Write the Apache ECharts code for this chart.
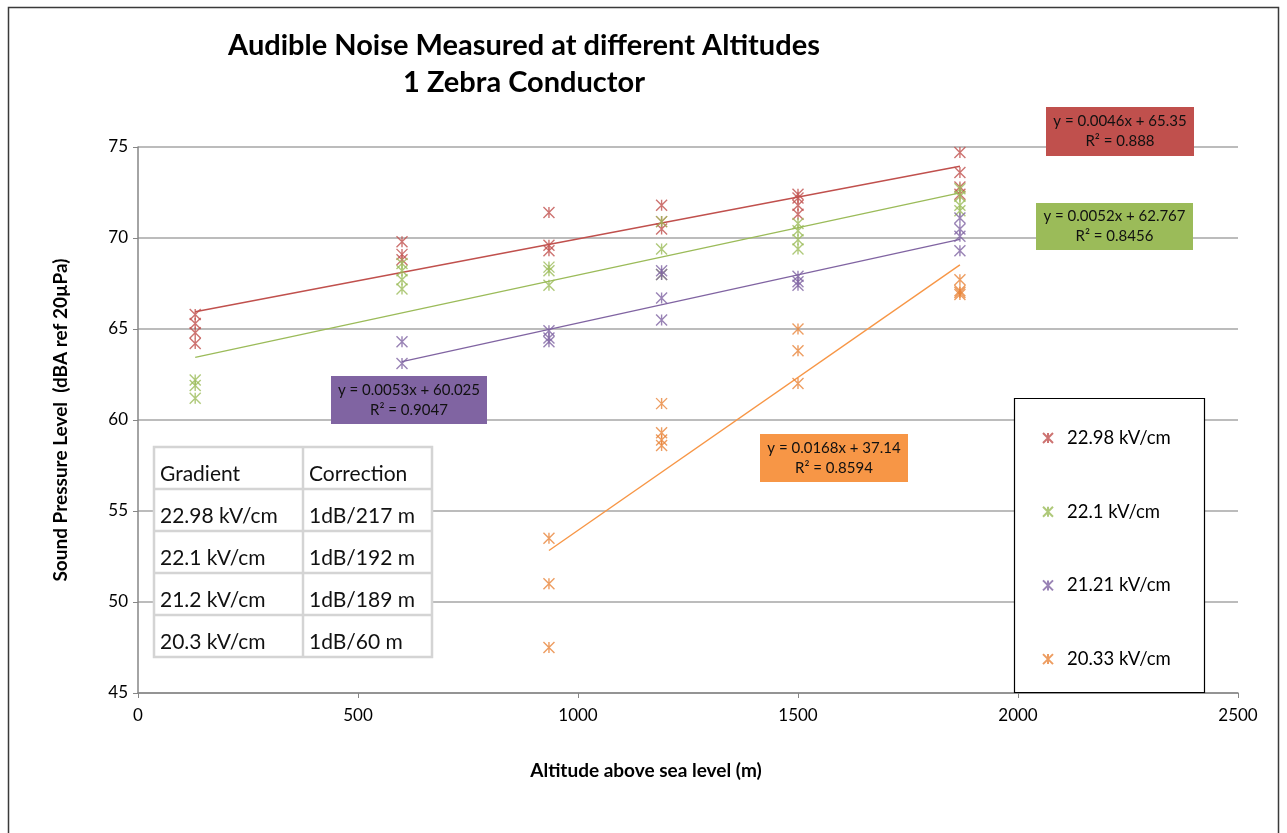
<!DOCTYPE html>
<html>
<head>
<meta charset="utf-8">
<title>Audible Noise Measured at different Altitudes</title>
<script src="https://cdn.jsdelivr.net/npm/echarts@6/dist/echarts.min.js"></script>
<style>
  html, body { margin: 0; padding: 0; background: #ffffff; }
  #chart { width: 1287px; height: 833px; }
</style>
</head>
<body>
<div id="chart"></div>
<script>
// Measured sound pressure level (dBA) per altitude (m), one array per conductor gradient
const seriesNames = ['22.98 kV/cm', '22.1 kV/cm', '21.21 kV/cm', '20.33 kV/cm'];
const seriesColors = ['#C0504D', '#9BBB59', '#8064A2', '#F79646'];
const markerColors = ['#C0504D', '#9BBB59', '#8064A2', '#E8853A'];

const grad2298 = [
  [130, 65.8], [130, 65.3], [130, 64.8], [130, 64.2],
  [600, 69.8], [600, 69.1], [600, 68.8],
  [934, 71.4], [934, 69.6], [934, 69.3],
  [1190, 71.8], [1190, 70.9], [1190, 70.5],
  [1500, 72.4], [1500, 72.2], [1500, 71.8], [1500, 71.3],
  [1868, 74.7], [1868, 73.6], [1868, 72.8], [1868, 72.4]
];
const grad221 = [
  [130, 62.2], [130, 61.9], [130, 61.2],
  [600, 68.6], [600, 68.2], [600, 67.7], [600, 67.2],
  [934, 68.4], [934, 68.2], [934, 67.4],
  [1190, 70.9], [1190, 69.4], [1190, 68.0],
  [1500, 70.8], [1500, 70.4], [1500, 69.9], [1500, 69.4],
  [1868, 72.7], [1868, 72.3], [1868, 71.8], [1868, 71.5]
];
const grad2121 = [
  [600, 64.3], [600, 63.1],
  [934, 64.9], [934, 64.5], [934, 64.3],
  [1190, 68.2], [1190, 68.0], [1190, 66.7], [1190, 65.5],
  [1500, 67.9], [1500, 67.6], [1500, 67.4],
  [1868, 71.1], [1868, 70.5], [1868, 70.1], [1868, 69.3]
];
const grad2033 = [
  [934, 53.5], [934, 51.0], [934, 47.5],
  [1190, 60.9], [1190, 59.3], [1190, 58.9], [1190, 58.6],
  [1500, 65.0], [1500, 63.8], [1500, 62.0],
  [1868, 67.7], [1868, 67.1], [1868, 67.0], [1868, 66.9]
];
const measurements = [grad2298, grad221, grad2121, grad2033];

// Linear trend fits (y = slope * x + intercept)
const slopes = [0.0046, 0.0052, 0.0053, 0.0168];
const intercepts = [65.35, 62.767, 60.025, 37.14];
const rSquared = ['0.888', '0.8456', '0.9047', '0.8594'];

// Altitude-correction table
const tableHeader = ['Gradient', 'Correction'];
const tableGradients = ['22.98 kV/cm', '22.1 kV/cm', '21.2 kV/cm', '20.3 kV/cm'];
const tableCorrections = ['1dB/217 m', '1dB/192 m', '1dB/189 m', '1dB/60 m'];

// Axis ranges
const xMin = 0, xMax = 2500, xStep = 500;
const yMin = 45, yMax = 75, yStep = 5;

const FONT = 'Lato, "Open Sans", sans-serif';
const STAR = 'path://M0,0L12,12M12,0L0,12M6,0L6,12';
const OVER = 1; // layer for boxes drawn above the plot

const chart = echarts.init(document.getElementById('chart'), null, { renderer: 'canvas' });

const series = [];
measurements.forEach((pts, i) => {
  series.push({
    name: seriesNames[i],
    type: 'scatter',
    data: pts,
    symbol: STAR,
    symbolSize: 11,
    itemStyle: { color: 'rgba(0,0,0,0)', borderColor: markerColors[i], borderWidth: 1.4 },
    z: 3
  });
});
measurements.forEach((pts, i) => {
  const xs = pts.map(p => p[0]);
  const lo = Math.min(...xs), hi = Math.max(...xs);
  series.push({
    name: seriesNames[i] + ' fit',
    type: 'line',
    data: [[lo, slopes[i] * lo + intercepts[i]], [hi, slopes[i] * hi + intercepts[i]]],
    symbol: 'none',
    lineStyle: { color: seriesColors[i], width: 1.4 },
    silent: true,
    z: 2
  });
});

const graphics = [];
// outer frame
graphics.push({
  type: 'rect', shape: { x: 8.5, y: 7.5, width: 1270, height: 840 },
  style: { fill: 'none', stroke: '#3a3a3a', lineWidth: 1.5 }, silent: true
});

// Equation boxes
const eqBoxes = [
  { x: 1046, y: 107, w: 148, h: 49 },
  { x: 1036, y: 203, w: 157, h: 47 },
  { x: 331, y: 376, w: 156, h: 48 },
  { x: 760, y: 434, w: 148, h: 48 }
];
eqBoxes.forEach((b, i) => {
  graphics.push({ type: 'rect', zlevel: OVER, z: 10, shape: { x: b.x, y: b.y, width: b.w, height: b.h }, style: { fill: seriesColors[i] } });
  graphics.push({ type: 'text', zlevel: OVER, z: 11, x: b.x + b.w / 2, y: b.y + b.h / 2 - 10,
    style: { text: 'y = ' + slopes[i] + 'x + ' + intercepts[i], fill: '#111', font: '15px ' + FONT, align: 'center', verticalAlign: 'middle' } });
  graphics.push({ type: 'text', zlevel: OVER, z: 11, x: b.x + b.w / 2, y: b.y + b.h / 2 + 10,
    style: { text: 'R² = ' + rSquared[i], fill: '#111', font: '15px ' + FONT, align: 'center', verticalAlign: 'middle' } });
});

// Correction table
const tX = 154, tY = 447, colW = [149, 129], rowH = 42;
const tW = colW[0] + colW[1];
const tableRows = [tableHeader].concat(tableGradients.map((g, k) => [g, tableCorrections[k]]));
graphics.push({ type: 'rect', zlevel: OVER, z: 10, shape: { x: tX, y: tY, width: tW, height: rowH * tableRows.length }, style: { fill: '#fff', stroke: '#d4d4d4', lineWidth: 2.5 } });
tableRows.forEach((row, r) => {
  if (r > 0) {
    graphics.push({ type: 'line', zlevel: OVER, z: 11, shape: { x1: tX, y1: tY + r * rowH, x2: tX + tW, y2: tY + r * rowH }, style: { stroke: '#d4d4d4', lineWidth: 2.5 } });
  }
  row.forEach((cell, c) => {
    graphics.push({
      type: 'text', zlevel: OVER, z: 12, x: tX + (c === 0 ? 6 : colW[0] + 6), y: tY + r * rowH + rowH / 2 + 6,
      style: { text: cell, fill: '#111', font: '21px ' + FONT, verticalAlign: 'middle' }
    });
  });
});
graphics.push({ type: 'line', zlevel: OVER, z: 11, shape: { x1: tX + colW[0], y1: tY, x2: tX + colW[0], y2: tY + rowH * tableRows.length }, style: { stroke: '#d4d4d4', lineWidth: 2.5 } });

// Legend frame
graphics.push({
  type: 'rect', zlevel: OVER, z: 10, shape: { x: 1014.5, y: 398.5, width: 190, height: 294 },
  style: { fill: '#fff', stroke: '#000', lineWidth: 1.2 }, silent: true
});

// X axis title, centred under the text block
graphics.push({
  type: 'text', x: 646, y: 771,
  style: { text: 'Altitude above sea level (m)', fill: '#000', font: 'bold 19px ' + FONT, align: 'center', verticalAlign: 'middle' }
});

chart.setOption({
  animation: false,
  backgroundColor: '#ffffff',
  title: {
    text: 'Audible Noise Measured at different Altitudes\n1 Zebra Conductor',
    left: 519, top: 22, textAlign: 'center',
    textStyle: { fontFamily: FONT, fontWeight: 'bold', fontSize: 29, lineHeight: 37, color: '#000' }
  },
  legend: {
    data: seriesNames,
    orient: 'vertical',
    left: 1037, top: 423,
    itemWidth: 28, itemHeight: 10, itemGap: 53.7,
    textStyle: { fontFamily: FONT, fontSize: 18.5, color: '#000', lineHeight: 20 },
    zlevel: 2
  },
  grid: { left: 138, top: 147, width: 1100, height: 546, containLabel: false },
  xAxis: {
    type: 'value', min: xMin, max: xMax, interval: xStep,
    axisLine: { show: true, lineStyle: { color: '#868686', width: 1.5 } },
    axisTick: { show: true, length: 5, lineStyle: { color: '#868686' } },
    axisLabel: { fontFamily: FONT, fontSize: 17, color: '#000', margin: 14, formatter: v => String(v) },
    splitLine: { show: false }
  },
  yAxis: {
    type: 'value', min: yMin, max: yMax, interval: yStep,
    name: 'Sound Pressure Level  (dBA ref 20µPa)', nameLocation: 'middle', nameGap: 68, nameRotate: 90,
    nameTextStyle: { fontFamily: FONT, fontWeight: 'bold', fontSize: 19, color: '#000' },
    axisLine: { show: true, lineStyle: { color: '#868686', width: 1.5 } },
    axisTick: { show: true, length: 5, lineStyle: { color: '#868686' } },
    axisLabel: { fontFamily: FONT, fontSize: 17, color: '#000', margin: 10, formatter: v => String(v) },
    splitLine: { show: true, lineStyle: { color: '#a6a6a6', width: 1.5 } }
  },
  graphic: graphics,
  series: series
});
</script>
</body>
</html>
